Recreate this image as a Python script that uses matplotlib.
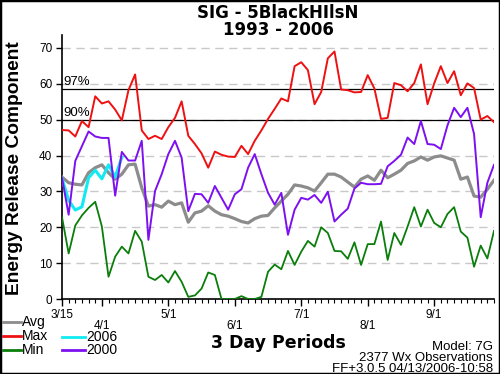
import matplotlib
matplotlib.use('Agg')
import matplotlib.pyplot as plt
import numpy as np
from matplotlib.lines import Line2D
from matplotlib.patches import Rectangle

plt.rcParams['font.family'] = ['Liberation Sans', 'DejaVu Sans']

# 3 day periods starting 3/15
periods = np.arange(66)
month_pos = [0, 6, 16, 26, 36, 46, 56]
month_labels = ['3/15', '4/1', '5/1', '6/1', '7/1', '8/1', '9/1']

avg_vals = [34.0, 32.4, 32.0, 31.8, 35.2, 36.6, 37.4, 35.2, 33.4, 34.8,
            37.4, 37.6, 31.0, 25.9, 26.3, 25.6, 27.3, 26.3, 26.8, 21.4,
            24.0, 24.5, 26.0, 24.5, 23.5, 23.1, 22.4, 21.6, 21.2, 22.4,
            23.1, 23.3, 25.4, 27.3, 29.2, 31.8, 31.5, 31.0, 30.1, 32.4,
            34.8, 34.8, 34.0, 32.6, 31.2, 33.4, 34.3, 33.1, 35.9, 33.8,
            34.8, 35.9, 37.8, 38.5, 39.6, 38.7, 39.6, 39.9, 39.3, 38.7,
            33.4, 34.0, 28.7, 28.4, 30.6, 33.1]

max_vals = [47.1, 47.0, 45.3, 49.6, 47.9, 56.5, 54.5, 55.1, 52.8, 49.8,
            58.2, 62.6, 47.0, 44.6, 45.5, 44.6, 47.9, 50.5, 55.1, 45.5,
            43.2, 40.6, 36.6, 41.1, 40.2, 39.7, 39.6, 42.7, 40.4, 44.1,
            47.0, 50.2, 53.0, 55.9, 55.1, 64.9, 66.0, 63.8, 54.3, 57.7,
            67.1, 69.0, 58.4, 58.2, 57.6, 57.7, 62.4, 58.7, 50.2, 50.5,
            60.2, 59.6, 57.9, 60.2, 65.4, 54.3, 60.1, 64.9, 60.2, 63.5,
            56.8, 60.1, 58.8, 50.0, 51.0, 49.3]

min_vals = [22.8, 12.7, 20.5, 23.3, 25.4, 27.1, 20.2, 6.2, 11.8, 14.6,
            12.7, 19.0, 16.0, 6.2, 5.3, 6.7, 4.6, 7.8, 4.8, 0.6,
            1.0, 2.9, 7.4, 6.7, 0.0, 0.0, 0.0, 0.8, 0.0, 0.0,
            0.6, 7.6, 9.6, 8.3, 13.4, 9.5, 13.2, 16.2, 14.6, 20.0,
            18.4, 13.4, 13.3, 11.2, 15.8, 9.5, 15.3, 15.3, 21.6, 10.9,
            18.4, 15.1, 20.2, 25.6, 20.2, 24.9, 21.2, 20.0, 23.7, 25.6,
            18.8, 17.1, 9.0, 14.9, 11.3, 19.0]

y2006 = [33.6, 27.5, 24.8, 25.7, 33.8, 35.9, 33.5, 37.4, 34.0, 39.5]

y2000 = [33.8, 23.5, 38.5, 42.6, 46.7, 45.3, 44.9, 44.9, 28.8, 41.0,
         38.6, 38.6, 44.1, 16.5, 30.1, 34.8, 40.4, 44.1, 39.4, 24.5,
         29.3, 29.2, 26.8, 31.5, 28.2, 24.9, 29.2, 30.6, 36.6, 40.4,
         34.8, 29.6, 26.3, 29.6, 17.9, 24.9, 28.2, 27.7, 29.0, 26.8,
         29.9, 21.6, 23.5, 25.2, 30.8, 32.4, 32.0, 32.0, 32.1, 37.0,
         38.5, 40.2, 45.0, 43.2, 49.6, 43.2, 43.0, 41.8, 48.4, 53.3,
         50.7, 53.3, 46.0, 22.8, 32.4, 37.4]

pct_levels = [58.5, 49.8]
pct_labels = ['97%', '90%']

c_avg = '#8c8c8c'
c_max = '#ee1111'
c_min = '#0b7d0b'
c_2006 = '#10eaf0'
c_2000 = '#7d10f0'

fig = plt.figure(figsize=(5, 3.74), dpi=100)
ax = fig.add_axes([0.124, 0.2005, 0.864, 0.706])

# dashed grid
for v in range(10, 71, 10):
    ax.axhline(v, color='#c8c8c8', lw=1, ls=(0, (6, 4)), zorder=0)

# percentile lines
for lev, lab in zip(pct_levels, pct_labels):
    ax.axhline(lev, color='black', lw=0.9, zorder=1)
    ax.text(0.2, lev + 0.3, lab, fontsize=9.5, ha='left', va='bottom')

ax.plot(periods, avg_vals, color=c_avg, lw=2.3, zorder=3)
ax.plot(periods, max_vals, color=c_max, lw=1.4, zorder=3)
ax.plot(periods, min_vals, color=c_min, lw=1.3, zorder=3)
ax.plot(periods[:len(y2006)], y2006, color=c_2006, lw=2.2, zorder=4)
ax.plot(periods, y2000, color=c_2000, lw=1.4, zorder=5)

ax.set_xlim(0, 65)
ax.set_ylim(0, 73.6)
ax.set_yticks(range(0, 71, 10))
ax.tick_params(axis='y', length=4, width=1, pad=3, labelsize=8.5)

ax.set_xticks(month_pos)
ax.set_xticklabels([l if i % 2 == 0 else '\n' + l for i, l in enumerate(month_labels)],
                   fontsize=8.5)
for t in ax.get_xticklabels():
    t.set_linespacing(0.95)
ax.set_xticks(periods, minor=True)
ax.tick_params(axis='x', which='major', length=5, width=1, pad=2)
ax.tick_params(axis='x', which='minor', length=3, width=0.8)

for s in ['top', 'right']:
    ax.spines[s].set_visible(False)
for s in ['left', 'bottom']:
    ax.spines[s].set_linewidth(1.2)

# titles and labels
fig.text(0.556, 1 - 35 / 374, 'SIG - 5BlackHIlsN\n1993 - 2006', ha='center', va='baseline',
         ma='center', linespacing=0.95, fontsize=12, weight='bold', family='DejaVu Sans')
fig.text(15 / 500, 1 - 168 / 374, 'Energy Release Component', rotation=90,
         ha='center', va='center', fontsize=13.8, weight='bold')
fig.text(0.556, 1 - 343 / 374, '3 Day Periods', ha='center', va='center',
         fontsize=12.5, weight='bold', family='DejaVu Sans')

fig.text(493 / 500, 1 - 372 / 374,
         'Model: 7G\n2377 Wx Observations\nFF+3.0.5 04/13/2006-10:58',
         ha='right', va='baseline', ma='right', linespacing=0.9, fontsize=9.5)

# legend drawn by hand
legend_items = [
    ('Avg', c_avg, 3, 322),
    ('Max', c_max, 3, 336),
    ('Min', c_min, 3, 350),
    ('2006', c_2006, 62, 337),
    ('2000', c_2000, 62, 350),
]
for lab, col, x0, yy in legend_items:
    yf = 1 - yy / 374
    ln = 18 if x0 < 10 else 23
    fig.add_artist(Line2D([x0 / 500, (x0 + ln) / 500], [yf, yf], color=col, lw=2,
                          transform=fig.transFigure))
    fig.text((x0 + ln + 1) / 500, yf, lab, ha='left', va='center', fontsize=10)

fig.add_artist(Rectangle((0, 0), 1, 1, transform=fig.transFigure, fill=False,
                         ec='black', lw=2.5))

fig.savefig('out.png', dpi=100)
